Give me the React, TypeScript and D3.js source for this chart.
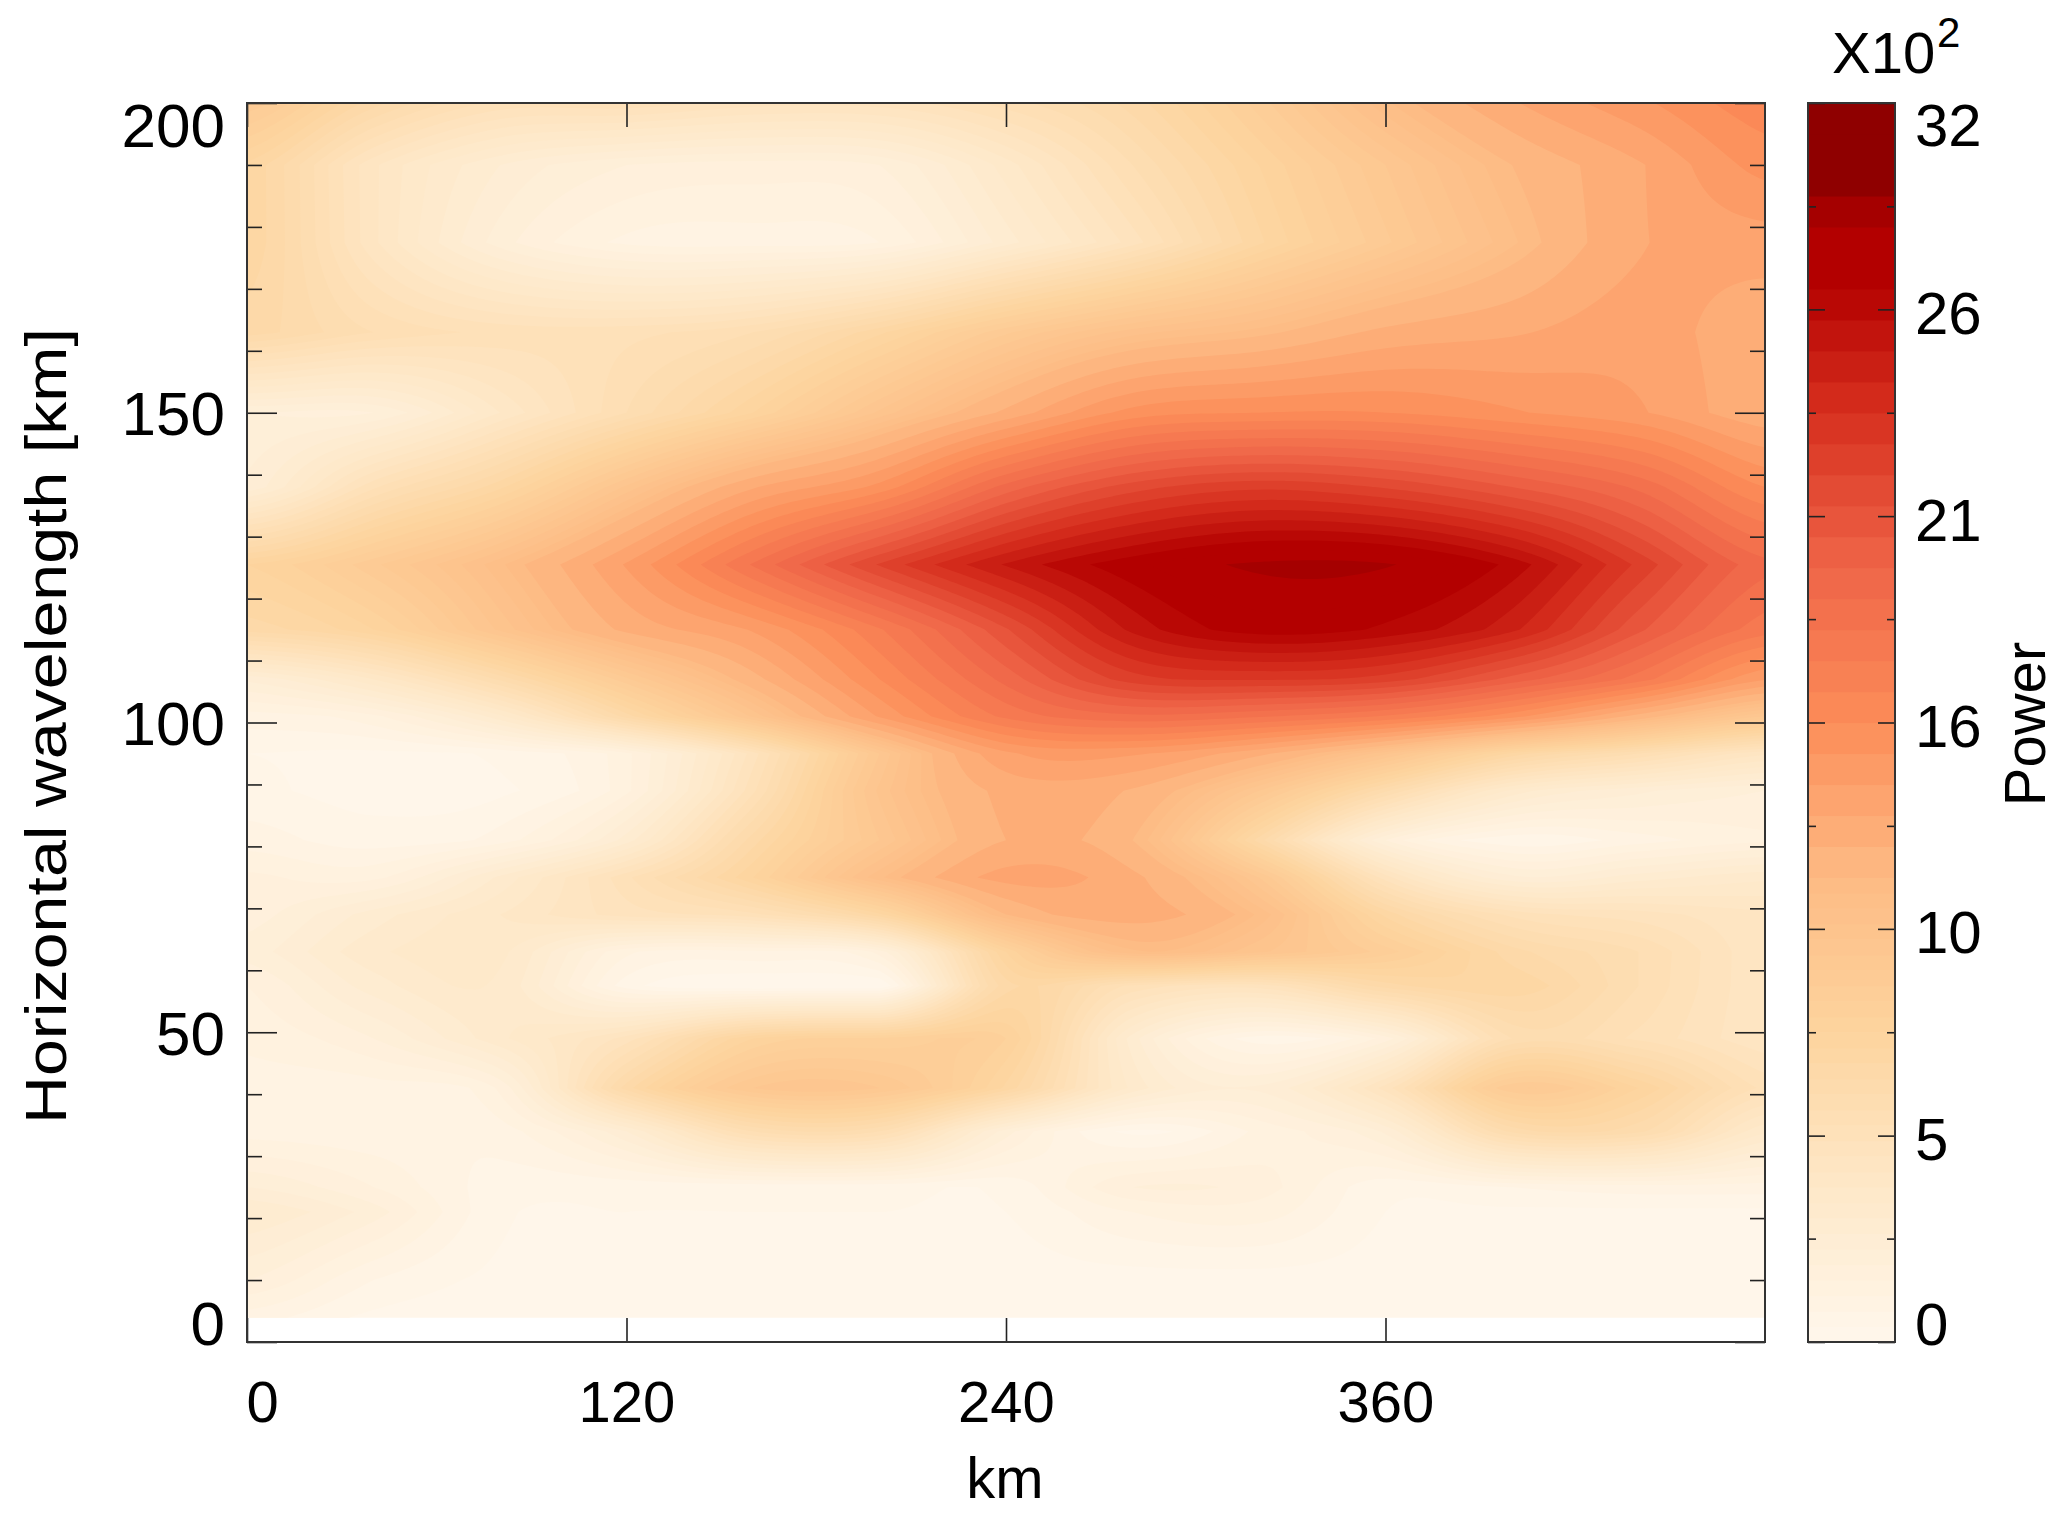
import * as d3 from 'd3';
import { useEffect, useRef } from 'react';

const distanceKm = [0, 40, 80, 120, 160, 200, 240, 280, 320, 360, 400, 440, 480];
const wavelengths = [200, 190, 177.5, 163, 150, 138, 125.5, 115, 107, 101, 95, 89, 81, 75, 69, 63, 57.5, 49, 41, 34, 25, 21, 10, 4];

// power (x10^2), one row per wavelength, one column per distance
const powerRows = [
    [9.5, 7, 5.5, 5.5, 5, 5, 5.8, 7, 9, 11.5, 13.5, 15, 16.5],
    [7.5, 4.5, 2.8, 2, 1.8, 2, 3.8, 6, 8, 10, 12, 13.5, 15.5],
    [7.5, 4.5, 2.2, 1.1, 1, 1.2, 3, 5, 7.5, 9.5, 11.5, 13.5, 14],
    [7, 6, 5.5, 5.5, 6, 7.5, 9.5, 11, 11.8, 13, 13.5, 14, 13],
    [2, 2, 4, 6, 8, 10.5, 13, 15.5, 16, 16, 15.3, 14.5, 13],
    [2.5, 5.5, 7.5, 10.5, 13.5, 15.5, 19.5, 22, 23, 22.3, 20.8, 19, 16],
    [8, 9.5, 11.5, 14.5, 18.5, 22.5, 25.7, 27.8, 29, 28.9, 26.9, 23, 19.5],
    [7, 8, 10.5, 13, 14.5, 17.5, 21.5, 25.8, 27.6, 27, 25, 21, 18],
    [2.5, 4, 6.5, 9.5, 12.5, 16, 19.5, 22.8, 23.3, 22.8, 20.5, 18, 14.5],
    [1, 1.5, 3.5, 7, 10.5, 14.5, 17.8, 19, 18.5, 17.5, 15.5, 12.5, 10],
    [0.4, 0.3, 0.5, 1.5, 5, 10, 14.2, 14.5, 13, 10.5, 7.5, 6, 4.5],
    [0.5, 0.2, 0.3, 1.5, 5.5, 10.5, 13, 12.7, 10, 6.5, 3.5, 2.5, 2],
    [1, 0.6, 1, 3, 7, 10, 12.8, 12, 7, 2, 0.5, 1, 1.5],
    [1.7, 1.5, 3.3, 5.5, 8, 11.5, 13.9, 13, 10, 5, 2.5, 3, 3.5],
    [1.8, 3, 4, 5, 5.5, 7.5, 12, 13.2, 11.5, 7.5, 5.5, 5, 4.5],
    [2.2, 3.5, 3.7, 1.3, 1.1, 1.8, 8, 11.5, 10.5, 9, 7, 6, 4.5],
    [1.6, 3, 3.5, 0.6, 0, 0, 7, 5.5, 5, 7, 7.5, 6, 4.5],
    [1.3, 2, 3.5, 5, 8, 8.5, 8.4, 3, 0.6, 1.8, 6, 5.5, 4.5],
    [1, 1, 1.7, 7, 10, 10, 7.5, 3.5, 2.5, 5, 9.5, 8, 5.5],
    [1, 0.9, 1, 2.8, 6, 6, 2.2, 0.3, 1.3, 2.5, 6.5, 6.5, 3.7],
    [2.4, 1.6, 0.6, 0.5, 0.5, 0.5, 0.5, 2, 1.8, 0.5, 0.8, 1, 1],
    [3.2, 2.2, 0.5, 0.4, 0.4, 0.4, 0.4, 1.2, 1.4, 0.4, 0.3, 0.3, 0.3],
    [2, 0.8, 0.3, 0.2, 0.2, 0.2, 0.2, 0.2, 0.2, 0.2, 0.2, 0.2, 0.2],
    [1, 0.3, 0.2, 0.2, 0.2, 0.2, 0.2, 0.2, 0.2, 0.2, 0.2, 0.2, 0.2],
];

const xTicks = [0, 120, 240, 360];
const yMajorTicks = [0, 50, 100, 150, 200];
const yMinorTicks = [10, 20, 30, 40, 60, 70, 80, 90, 110, 120, 130, 140, 160, 170, 180, 190];
const barTicks = [0, 5.33, 10.67, 16, 21.33, 26.67, 32];
const barMinorTicks = [2.67, 8, 13.33, 18.67, 24, 29.33];
const barLabels = ['0', '5', '10', '16', '21', '26', '32'];

const colorStops = [0, 4, 8, 12, 16, 20, 24, 27.4, 28.6, 29.4, 30, 32];
const colorValues = ['#fff7ec', '#fee8c8', '#fdd49e', '#fdbb84', '#fc8d59', '#ef6548', '#d7301f', '#b30000', '#b30000', '#a00000', '#8f0000', '#8f0000'];

const FONT = '"Liberation Sans", sans-serif';
const FONT_SIZE = 58;
const INK = '#333';

// smooth along the distance axis, passing through the read values
function catmullRom(values, t) {
    const n = values.length - 1;
    const i = Math.min(Math.floor(t), n - 1);
    const u = t - i;
    const p0 = values[Math.max(i - 1, 0)];
    const p1 = values[i];
    const p2 = values[i + 1];
    const p3 = values[Math.min(i + 2, n)];
    return 0.5 * (2 * p1 + (p2 - p0) * u + (2 * p0 - 5 * p1 + 4 * p2 - p3) * u * u + (3 * p1 - p0 - 3 * p2 + p3) * u * u * u);
}

function App() {
    const svgRef = useRef(null);

    useEffect(() => {
        if (!svgRef.current) return;
        const svg = d3.select(svgRef.current);
        svg.selectAll('*').remove();

        const plot = { left: 247, right: 1765, top: 103, bottom: 1342 };
        const bar = { left: 1808, right: 1895 };

        const x = d3.scaleLinear().domain([0, 480]).range([plot.left, plot.right]);
        const y = d3.scaleLinear().domain([0, 200]).range([plot.bottom, plot.top]);
        const barY = d3.scaleLinear().domain([0, 32]).range([plot.bottom, plot.top]);
        const color = d3.scaleLinear().domain(colorStops).range(colorValues).clamp(true);

        // fine steps in the pale part, visible bands in the red part
        const levels = [...d3.range(0, 12, 0.4), ...d3.range(12, 32, 0.8)];
        const nextLevel = (v) => (v < 12 ? v + 0.4 : v + 0.8);

        // fine grid for the contours: smooth in distance, straight between wavelength rows
        const kmStep = 2;
        const waveStep = 0.5;
        const fineX = d3.range(0, 480 + kmStep, kmStep);
        const fineY = d3.range(4, 200 + waveStep, waveStep);
        const rowsAsc = wavelengths.slice().reverse();
        const tableAsc = powerRows.slice().reverse();
        const values = new Array(fineX.length * fineY.length);
        fineX.forEach((km, i) => {
            const t = (km / 480) * (distanceKm.length - 1);
            const column = d3.scaleLinear().domain(rowsAsc).range(tableAsc.map(row => Math.max(catmullRom(row, t), 0)));
            fineY.forEach((w, j) => {
                values[j * fineX.length + i] = column(w);
            });
        });

        const contours = d3.contours().size([fineX.length, fineY.length]).thresholds(levels).smooth(true)(values);
        const toPlot = d3.geoTransform({
            point(gx, gy) {
                this.stream.point(x((gx - 0.5) * kmStep), y(4 + (gy - 0.5) * waveStep));
            },
        });
        const path = d3.geoPath(toPlot);

        const defs = svg.append('defs');
        defs.append('clipPath').attr('id', 'dataClip').append('rect')
            .attr('x', plot.left)
            .attr('y', plot.top)
            .attr('width', plot.right - plot.left)
            .attr('height', y(3.9) - plot.top);

        svg.append('g')
            .attr('clip-path', 'url(#dataClip)')
            .selectAll('path')
            .data(contours)
            .enter().append('path')
            .attr('d', path)
            .attr('fill', d => color((d.value + nextLevel(d.value)) / 2));

        // colour bar
        svg.append('g')
            .selectAll('rect')
            .data(levels)
            .enter().append('rect')
            .attr('x', bar.left)
            .attr('width', bar.right - bar.left)
            .attr('y', d => barY(nextLevel(d)))
            .attr('height', d => barY(d) - barY(nextLevel(d)) + 0.6)
            .attr('fill', d => color((d + nextLevel(d)) / 2));

        const styleAxis = (g) => {
            g.select('.domain').remove();
            g.selectAll('.tick line').attr('stroke', '#222').attr('stroke-width', 1.6);
        };
        const styleText = (g, size = FONT_SIZE) => {
            g.selectAll('.tick text')
                .attr('font-family', FONT)
                .attr('font-size', size)
                .attr('fill', '#000')
                .attr('dy', null);
        };

        // x axis, bottom and top
        const bottomAxis = svg.append('g')
            .attr('transform', `translate(0, ${plot.bottom})`)
            .call(d3.axisBottom(x).tickValues(xTicks).tickSize(-24).tickPadding(0));
        styleAxis(bottomAxis);
        styleText(bottomAxis);
        bottomAxis.selectAll('.tick text')
            .attr('y', 80)
            .attr('x', d => (d === 0 ? 15 : 0));
        svg.append('g')
            .attr('transform', `translate(0, ${plot.top})`)
            .call(d3.axisTop(x).tickValues(xTicks).tickSize(-24).tickFormat(() => ''))
            .call(styleAxis);

        // y axis, left and right
        const leftAxis = svg.append('g')
            .attr('transform', `translate(${plot.left}, 0)`)
            .call(d3.axisLeft(y).tickValues(yMajorTicks).tickSize(-30).tickPadding(0));
        styleAxis(leftAxis);
        styleText(leftAxis, 62);
        leftAxis.selectAll('.tick text')
            .attr('x', -22)
            .attr('y', d => (d === 0 ? 2 : d === 200 ? 43 : 22));
        svg.append('g')
            .attr('transform', `translate(${plot.left}, 0)`)
            .call(d3.axisLeft(y).tickValues(yMinorTicks).tickSize(-15).tickFormat(() => ''))
            .call(styleAxis);
        svg.append('g')
            .attr('transform', `translate(${plot.right}, 0)`)
            .call(d3.axisRight(y).tickValues(yMajorTicks).tickSize(-30).tickFormat(() => ''))
            .call(styleAxis);
        svg.append('g')
            .attr('transform', `translate(${plot.right}, 0)`)
            .call(d3.axisRight(y).tickValues(yMinorTicks).tickSize(-15).tickFormat(() => ''))
            .call(styleAxis);

        // colour bar ticks on both sides, labels on the right
        const barRight = svg.append('g')
            .attr('transform', `translate(${bar.right}, 0)`)
            .call(d3.axisRight(barY).tickValues(barTicks).tickSize(-17).tickFormat((d, i) => barLabels[i]));
        styleAxis(barRight);
        styleText(barRight, 60);
        barRight.selectAll('.tick text')
            .attr('x', 20)
            .attr('y', d => (d === 0 ? 2 : d === 32 ? 42 : 24));
        svg.append('g')
            .attr('transform', `translate(${bar.left}, 0)`)
            .call(d3.axisLeft(barY).tickValues(barTicks).tickSize(-17).tickFormat(() => ''))
            .call(styleAxis);
        svg.append('g')
            .attr('transform', `translate(${bar.left}, 0)`)
            .call(d3.axisLeft(barY).tickValues(barMinorTicks).tickSize(-8).tickFormat(() => ''))
            .call(styleAxis);
        svg.append('g')
            .attr('transform', `translate(${bar.right}, 0)`)
            .call(d3.axisRight(barY).tickValues(barMinorTicks).tickSize(-8).tickFormat(() => ''))
            .call(styleAxis);

        // frames
        [[plot.left, plot.right], [bar.left, bar.right]].forEach(([a, b]) => {
            svg.append('rect')
                .attr('x', a)
                .attr('y', plot.top)
                .attr('width', b - a)
                .attr('height', plot.bottom - plot.top)
                .attr('fill', 'none')
                .attr('stroke', INK)
                .attr('stroke-width', 2);
        });

        const label = (text, tx, ty, rotate = 0, anchor = 'middle', size = FONT_SIZE) => svg.append('text')
            .attr('transform', `translate(${tx}, ${ty}) rotate(${rotate})`)
            .attr('text-anchor', anchor)
            .attr('font-family', FONT)
            .attr('font-size', size)
            .attr('fill', '#000')
            .text(text);

        label('km', 1005, 1498);
        label('Horizontal wavelength [km]', 66, 726, -90).attr('textLength', 796).attr('lengthAdjust', 'spacingAndGlyphs');
        label('Power', 2045, 724, -90);
        label('X10', 1832, 73, 0, 'start');
        label('2', 1937, 47, 0, 'start', 42);
    }, []);

    return <svg ref={svgRef} width={2067} height={1518} style={{ position: 'absolute', left: 0, top: 0, display: 'block', background: '#fff' }}></svg>;
}

export default App;
